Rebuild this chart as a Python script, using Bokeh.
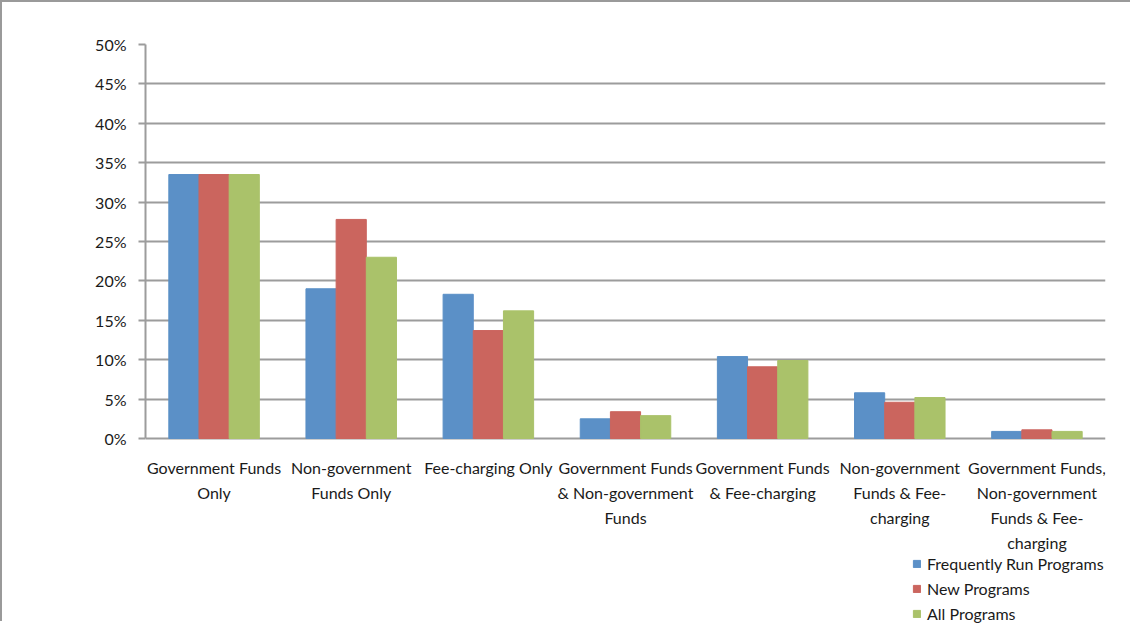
from bokeh.plotting import figure
from bokeh.models import (ColumnDataSource, FactorRange, Range1d, NumeralTickFormatter,
                          Legend, LegendItem, SingleIntervalTicker)
from bokeh.core.properties import value
from bokeh.transform import dodge
from bokeh.embed import file_html
from bokeh.resources import INLINE

categories = [
    "Government Funds\nOnly",
    "Non-government\nFunds Only",
    "Fee-charging Only",
    "Government Funds\n& Non-government\nFunds",
    "Government Funds\n& Fee-charging",
    "Non-government\nFunds & Fee-\ncharging",
    "Government Funds,\nNon-government\nFunds & Fee-\ncharging",
]
frequent = [0.335, 0.190, 0.183, 0.025, 0.104, 0.058, 0.009]
new_prog = [0.335, 0.278, 0.137, 0.034, 0.091, 0.046, 0.011]
all_prog = [0.335, 0.230, 0.162, 0.029, 0.099, 0.052, 0.009]
series_names = ["Frequently Run Programs", "New Programs", "All Programs"]
y_ticks_max = 0.5
colors = ["#5B90C7", "#CB655E", "#AAC26A"]

FONT = "Lato"
TXT = "#1a1a1a"
GRID = "#9c9c9c"

W, H = 1130, 621
TOP, LEFT, RIGHT = 42, 143, 27
px_per_unit = 788.0  # pixels for 100%
frame_h = H - TOP
y_start = y_ticks_max - frame_h / px_per_unit

src = ColumnDataSource(dict(cat=categories, freq=frequent, newp=new_prog, allp=all_prog))

p = figure(width=W, height=H, x_range=FactorRange(factors=categories),
           y_range=Range1d(y_start, y_ticks_max),
           output_backend="svg", toolbar_location=None,
           min_border_left=LEFT, min_border_right=RIGHT, min_border_top=TOP, min_border_bottom=0)
p.styles = {"border-left": "2px solid #9a9a9a", "border-top": "2px solid #9a9a9a"}
p.outline_line_color = None
p.x_range.range_padding = 0
p.xaxis.visible = False

bw = 0.22
r1 = p.vbar(x=dodge("cat", -bw, range=p.x_range), top="freq", width=bw, source=src,
            fill_color=colors[0], line_color=colors[0])
r2 = p.vbar(x=dodge("cat", 0, range=p.x_range), top="newp", width=bw, source=src,
            fill_color=colors[1], line_color=colors[1])
r3 = p.vbar(x=dodge("cat", bw, range=p.x_range), top="allp", width=bw, source=src,
            fill_color=colors[2], line_color=colors[2])

# y axis
p.yaxis.bounds = (0, y_ticks_max)
p.yaxis.ticker = SingleIntervalTicker(interval=0.05)
p.yaxis.formatter = NumeralTickFormatter(format="0%")
p.yaxis.axis_line_color = GRID
p.yaxis.axis_line_width = 2
p.yaxis.major_tick_line_color = GRID
p.yaxis.major_tick_line_width = 2
p.yaxis.major_tick_out = 7
p.yaxis.major_tick_in = 0
p.yaxis.minor_tick_line_color = None
p.yaxis.major_label_text_font = FONT
p.yaxis.major_label_text_font_size = "16px"
p.yaxis.major_label_text_color = TXT
p.yaxis.major_label_standoff = 12

p.ygrid.bounds = (0, y_ticks_max)
p.ygrid.grid_line_color = GRID
p.ygrid.grid_line_width = 2
p.xgrid.grid_line_color = None

# multi-line category labels under the zero line
lx, ly, lo, lt = [], [], [], []
for c in categories:
    for i, line in enumerate(c.split("\n")):
        lx.append(c)
        ly.append(0)
        lo.append(29 + 25 * i)
        lt.append(line)
lsrc = ColumnDataSource(dict(x=lx, y=ly, off=lo, t=lt))
p.text(x="x", y="y", y_offset="off", text="t", source=lsrc,
       text_align="center", text_baseline="middle",
       text_font=value(FONT), text_font_size="16px", text_color=TXT)

legend = Legend(items=[LegendItem(label=series_names[0], renderers=[r1]),
                       LegendItem(label=series_names[1], renderers=[r2]),
                       LegendItem(label=series_names[2], renderers=[r3])],
                location=(767, 0), orientation="vertical")
legend.border_line_color = None
legend.background_fill_alpha = 0
legend.padding = 0
legend.margin = 0
legend.spacing = 6
legend.glyph_width = 9
legend.glyph_height = 9
legend.label_height = 18
legend.label_standoff = 6
legend.label_text_font = FONT
legend.label_text_font_size = "16px"
legend.label_text_color = TXT
p.add_layout(legend)

open("out.html", "w").write(file_html(p, INLINE))
